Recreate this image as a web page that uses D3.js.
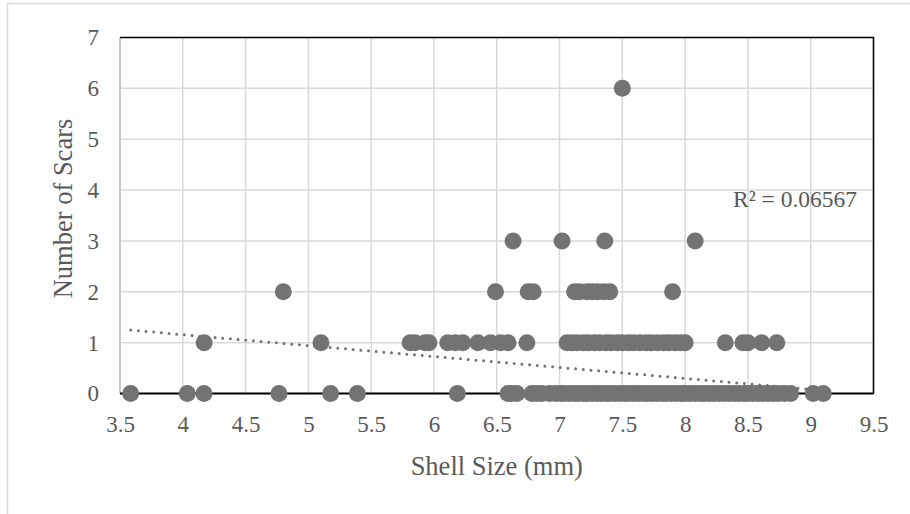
<!DOCTYPE html>
<html>
<head>
<meta charset="utf-8">
<script src="https://cdn.jsdelivr.net/npm/d3@7"></script>
<style>
  body { margin: 0; background: #fff; }
  text { font-family: "Liberation Serif", "Times New Roman", serif; fill: #595959; }
</style>
</head>
<body>
<svg id="chart" width="910" height="514"></svg>
<script>
'use strict'

// shell sizes (mm) for each scar count
const sizes0 = [3.585, 4.036, 4.169, 4.766, 5.177, 5.39, 6.186,
    6.59, 6.62, 6.66, 6.78, 6.82, 6.86, 6.92, 6.97, 7.01, 7.04, 7.08, 7.12, 7.15,
    7.19, 7.22, 7.26, 7.3, 7.33, 7.37, 7.4, 7.44, 7.48, 7.52, 7.55, 7.59, 7.63,
    7.67, 7.7, 7.74, 7.78, 7.82, 7.85, 7.89, 7.93, 7.97, 8.0, 8.04, 8.08, 8.12,
    8.15, 8.19, 8.23, 8.27, 8.31, 8.35, 8.39, 8.43, 8.47, 8.5, 8.54, 8.58, 8.62,
    8.66, 8.7, 8.74, 8.79, 8.84, 9.02, 9.1]
const sizes1 = [4.17, 5.1, 5.81, 5.85, 5.93, 5.96, 6.11, 6.17, 6.23, 6.35, 6.45,
    6.53, 6.59, 6.74, 7.06, 7.1, 7.14, 7.19, 7.23, 7.28, 7.32, 7.37, 7.41, 7.46,
    7.5, 7.55, 7.59, 7.64, 7.69, 7.73, 7.78, 7.83, 7.87, 7.92, 7.96, 8.0, 8.32,
    8.46, 8.5, 8.61, 8.73]
const sizes2 = [4.8, 6.49, 6.75, 6.79, 7.12, 7.16, 7.22, 7.26, 7.3, 7.35, 7.4, 7.9]
const sizes3 = [6.63, 7.02, 7.36, 8.08]
const sizes6 = [7.5]

const scarCounts = [0, 1, 2, 3, 6]
const sizeGroups = [sizes0, sizes1, sizes2, sizes3, sizes6]

const xTicks = [3.5, 4, 4.5, 5, 5.5, 6, 6.5, 7, 7.5, 8, 8.5, 9, 9.5]
const yTicks = [0, 1, 2, 3, 4, 5, 6, 7]

// linear trendline as shown on the chart
const trendIntercept = 2.017
const trendSlope = -0.215
const rSquared = '0.06567'

const points = []
sizeGroups.forEach(function (group, i) {
    group.forEach(function (s) {
        points.push({size: s, scars: scarCounts[i]})
    })
})

const svg = d3.select('#chart')

const plotLeft = 120
const plotRight = 873.5
const plotTop = 37.5
const plotBottom = 393.5

const x = d3.scaleLinear().domain([3.5, 9.5]).range([plotLeft, plotRight])
const y = d3.scaleLinear().domain([0, 7]).range([plotBottom, plotTop])

// outer chart frame
svg.append('rect')
    .attr('x', 7.5).attr('y', 3.5)
    .attr('width', 920).attr('height', 530)
    .attr('fill', '#fff')
    .attr('stroke', '#d9d9d9')
    .attr('stroke-width', 1.5)

// gridlines
svg.append('g')
    .selectAll('line')
    .data(xTicks)
    .enter()
    .append('line')
    .attr('x1', d => x(d)).attr('x2', d => x(d))
    .attr('y1', plotTop).attr('y2', plotBottom)
    .attr('stroke', '#d9d9d9')
    .attr('stroke-width', 1.5)

svg.append('g')
    .selectAll('line')
    .data(yTicks)
    .enter()
    .append('line')
    .attr('x1', plotLeft).attr('x2', plotRight)
    .attr('y1', d => y(d)).attr('y2', d => y(d))
    .attr('stroke', '#d9d9d9')
    .attr('stroke-width', 1.5)

// plot frame: gray on the left, black elsewhere
svg.append('line')
    .attr('x1', plotLeft).attr('x2', plotLeft)
    .attr('y1', plotTop).attr('y2', plotBottom)
    .attr('stroke', '#bfbfbf').attr('stroke-width', 1.5)
svg.append('path')
    .attr('d', 'M' + plotLeft + ',' + plotTop + 'H' + plotRight + 'V' + plotBottom)
    .attr('fill', 'none')
    .attr('stroke', '#000').attr('stroke-width', 1.5)

// x axis line
svg.append('line')
    .attr('x1', plotLeft).attr('x2', plotRight)
    .attr('y1', y(0)).attr('y2', y(0))
    .attr('stroke', '#000').attr('stroke-width', 2.2)

// tick labels via d3 axes, domain and tick marks hidden
svg.append('g')
    .attr('transform', 'translate(0,' + plotBottom + ')')
    .call(d3.axisBottom(x).tickValues(xTicks).tickSize(0).tickPadding(22).tickFormat(d3.format('')))
svg.append('g')
    .attr('transform', 'translate(' + plotLeft + ',0)')
    .call(d3.axisLeft(y).tickValues(yTicks).tickSize(0).tickPadding(21).tickFormat(d3.format('d')))

svg.selectAll('.domain').remove()
svg.selectAll('.tick text')
    .attr('font-family', '"Liberation Serif", serif')
    .attr('font-size', 23)
    .attr('fill', '#595959')

// points
svg.append('g')
    .selectAll('circle')
    .data(points)
    .enter()
    .append('circle')
    .attr('cx', d => x(d.size))
    .attr('cy', d => y(d.scars))
    .attr('r', 8.5)
    .attr('fill', '#737373')

// trendline spans the data range
const xExtent = d3.extent(points, d => d.size)
svg.append('line')
    .attr('x1', x(xExtent[0]))
    .attr('y1', y(trendIntercept + trendSlope * xExtent[0]))
    .attr('x2', x(xExtent[1]))
    .attr('y2', y(trendIntercept + trendSlope * xExtent[1]))
    .attr('stroke', '#737373')
    .attr('stroke-width', 3)
    .attr('stroke-linecap', 'round')
    .attr('stroke-dasharray', '0,7.7')

svg.append('text')
    .attr('x', 733)
    .attr('y', 207)
    .attr('font-size', 23.5)
    .text('R² = ' + rSquared)

// axis titles
svg.append('text')
    .attr('x', (plotLeft + plotRight) / 2)
    .attr('y', 475)
    .attr('text-anchor', 'middle')
    .attr('font-size', 26.5)
    .text('Shell Size (mm)')

svg.append('text')
    .attr('transform', 'translate(72,208.5) rotate(-90)')
    .attr('text-anchor', 'middle')
    .attr('font-size', 26.5)
    .text('Number of Scars')
</script>
</body>
</html>
